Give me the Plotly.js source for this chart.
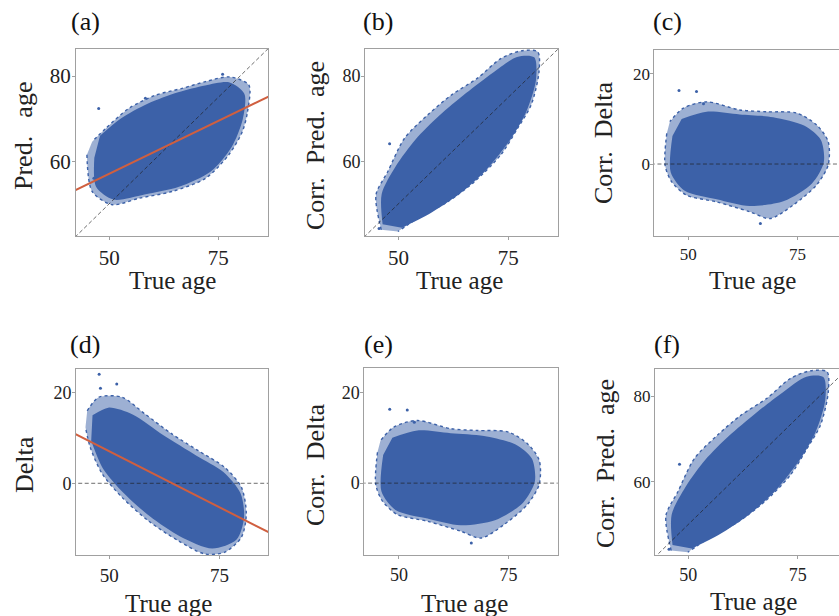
<!DOCTYPE html>
<html>
<head>
<meta charset="utf-8">
<script src="https://cdn.plot.ly/plotly-3.0.1.min.js"></script>
<style>
html,body{margin:0;padding:0;overflow:hidden;background:#fff;}
#chart{width:850px;height:616px;}
</style>
</head>
<body>
<div id="chart"></div>
<script>
// ---------- data ----------
const panelLetters = ["(a)", "(b)", "(c)", "(d)", "(e)", "(f)"];
const xTitle = "True age";
const yTitles = ["Pred.\u2002\u2009age", "Corr.\u2002Pred.\u2002age", "Corr.\u2002Delta", "Delta", "Corr.\u2002Delta", "Corr.\u2002Pred.\u2002age"];
const ageXTicks = [50, 75];
const ageYTicks = [60, 80];
const deltaYTicks = [0, 20];

// (a) True age vs Pred. age : outer sparse fringe and dense core outlines
const predFringeX = [44.9, 46.1, 50.7, 56.8, 64.4, 72.1, 77.4, 80.5, 81.7, 82.0, 77.5, 72.1, 66.7, 60.6, 54.5, 49.2, 46.1];
const predFringeY = [61.5, 52.9, 49.8, 51.3, 52.9, 56.0, 61.5, 66.9, 71.6, 77.9, 79.8, 78.7, 77.1, 75.5, 72.4, 67.7, 64.6];
const predCoreX = [46.6, 47.0, 51.0, 58.1, 66.0, 73.3, 78.0, 80.6, 81.0, 77.6, 72.0, 65.8, 58.8, 52.6, 47.9];
const predCoreY = [60.8, 54.0, 51.0, 52.2, 54.0, 57.6, 63.2, 69.8, 75.8, 78.5, 77.8, 76.2, 73.5, 70.0, 66.0];
const predOutX = [47.6, 58.3, 76.0, 46.5];
const predOutY = [72.4, 74.8, 80.4, 56.0];
const predFitX = [40, 90];
const predFitY = [52.1, 76.9];

// (b),(f) True age vs Corr. Pred. age
const corrPredFringeX = [46.1, 44.9, 47.6, 51.4, 56.7, 62.0, 68.0, 73.3, 77.9, 81.7, 82.0, 80.2, 77.1, 73.3, 67.3, 61.2, 54.4, 49.9];
const corrPredFringeY = [43.9, 52.1, 57.6, 65.4, 70.9, 75.5, 79.5, 84.1, 85.9, 85.7, 81.0, 73.2, 67.7, 61.5, 55.2, 50.5, 46.6, 43.5];
const corrPredCoreX = [46.4, 46.2, 49.4, 53.9, 59.2, 65.4, 71.5, 77.0, 80.9, 81.3, 79.1, 75.4, 70.0, 64.0, 57.0, 50.8];
const corrPredCoreY = [45.2, 52.3, 58.8, 65.1, 70.6, 76.0, 80.8, 84.5, 84.4, 79.0, 71.6, 65.0, 58.0, 52.4, 47.6, 44.4];
const corrPredOutX = [48.0, 45.6];
const corrPredOutY = [64.1, 44.2];

// (c),(e) True age vs Corr. Delta
const corrDeltaFringeX = [45.1, 44.7, 46.2, 49.6, 56.5, 64.1, 68.7, 74.0, 79.3, 82.0, 82.0, 79.3, 74.8, 67.9, 61.8, 54.2, 48.9, 45.8];
const corrDeltaFringeY = [6.8, -0.2, -3.9, -6.9, -8.4, -10.6, -12.1, -9.1, -4.7, -0.2, 5.0, 8.7, 11.3, 11.6, 12.0, 13.8, 12.4, 9.4];
const corrDeltaCoreX = [46.4, 46.0, 49.2, 56.5, 64.1, 71.9, 78.3, 81.0, 80.3, 76.6, 69.4, 61.8, 54.2, 48.5];
const corrDeltaCoreY = [6.2, -1.8, -5.9, -7.8, -9.3, -8.2, -4.3, 0.4, 5.4, 8.5, 10.4, 11.0, 11.6, 10.0];
const corrDeltaOutX = [47.9, 51.9, 53.5, 66.5];
const corrDeltaOutY = [16.3, 16.1, 13.4, -13.2];

// (d) True age vs Delta
const deltaFringeX = [45.0, 47.6, 52.9, 58.1, 64.2, 70.2, 76.2, 80.0, 81.1, 80.0, 76.2, 71.7, 65.7, 58.9, 52.9, 48.4, 45.7, 44.6];
const deltaFringeY = [16.0, 19.0, 19.0, 15.3, 10.9, 7.2, 3.5, -0.9, -6.8, -11.9, -15.2, -15.6, -12.7, -8.3, -3.1, 2.1, 7.9, 12.4];
const deltaCoreX = [46.2, 49.8, 55.3, 62.3, 69.8, 75.9, 79.8, 80.6, 78.9, 73.4, 66.2, 59.2, 53.2, 48.6, 45.9];
const deltaCoreY = [15.0, 16.7, 15.2, 10.6, 6.1, 2.5, -2.2, -7.6, -12.4, -14.4, -11.8, -7.3, -2.1, 3.2, 9.4];
const deltaOutX = [47.7, 48.0, 51.7];
const deltaOutY = [24.1, 21.0, 21.9];
const deltaFitX = [40, 90];
const deltaFitY = [12.0, -12.7];

const refLineX = [40, 90];
const identityY = [40, 90];
const zeroY = [0, 0];

// ---------- styling ----------
const BLUE = "#3C61A8";
const BLUE_FRINGE = "rgba(60,97,168,0.5)";
const RED = "#D05F3F";
const SPINE = "#a0a0a0";
const FONT = "Liberation Serif, Times New Roman, serif";
const W = 850, H = 616;

const panels = [
  {fx: predFringeX, fy: predFringeY, cx: predCoreX, cy: predCoreY, ox: predOutX, oy: predOutY,
   ref: identityY, fitX: predFitX, fitY: predFitY, yt: ageYTicks,
   xd: [76, 268], yd: [49, 236], xr: [42.4, 86.4], yr: [42.45, 86.35], xf: 21, yf: 21},
  {fx: corrPredFringeX, fy: corrPredFringeY, cx: corrPredCoreX, cy: corrPredCoreY, ox: corrPredOutX, oy: corrPredOutY,
   ref: identityY, yt: ageYTicks,
   xd: [365, 557.7], yd: [49, 236], xr: [42.4, 86.25], yr: [42.45, 86.35], xf: 21, yf: 18},
  {fx: corrDeltaFringeX, fy: corrDeltaFringeY, cx: corrDeltaCoreX, cy: corrDeltaCoreY, ox: corrDeltaOutX, oy: corrDeltaOutY,
   ref: zeroY, yt: deltaYTicks,
   xd: [654.3, 847], yd: [50, 235.7], xr: [42.25, 86.3], yr: [-15.9, 25.3], xf: 17, yf: 17},
  {fx: deltaFringeX, fy: deltaFringeY, cx: deltaCoreX, cy: deltaCoreY, ox: deltaOutX, oy: deltaOutY,
   ref: zeroY, fitX: deltaFitX, fitY: deltaFitY, yt: deltaYTicks,
   xd: [76, 268.3], yd: [368.7, 555.3], xr: [42.45, 86.1], yr: [-15.9, 25.3], xf: 19, yf: 18},
  {fx: corrDeltaFringeX, fy: corrDeltaFringeY, cx: corrDeltaCoreX, cy: corrDeltaCoreY, ox: corrDeltaOutX, oy: corrDeltaOutY,
   ref: zeroY, yt: deltaYTicks,
   xd: [364.3, 557.7], yd: [368.3, 555.3], xr: [42.1, 86.2], yr: [-15.9, 25.3], xf: 18, yf: 18},
  {fx: corrPredFringeX, fy: corrPredFringeY, cx: corrPredCoreX, cy: corrPredCoreY, ox: corrPredOutX, oy: corrPredOutY,
   ref: identityY, yt: ageYTicks,
   xd: [655, 848], yd: [368.7, 555.3], xr: [42.4, 86.5], yr: [42.8, 86.4], xf: 18, yf: 17}
];

// annotation positions (page px)
const letterPos = [[85, 22], [378, 22], [667, 22], [85, 344], [378, 344], [667, 344]];
const xTitlePos = [[172, 280], [459, 280], [752, 280], [168, 603], [464, 603], [753, 601]];
const yTitlePos = [[24, 136], [315, 146], [603, 143], [24, 465], [315, 465], [605, 464]];

const traces = [];
const layout = {
  width: W, height: H,
  margin: {l: 0, r: 0, t: 0, b: 0},
  paper_bgcolor: "#fff", plot_bgcolor: "#fff",
  showlegend: false,
  font: {family: FONT, color: "#222"},
  annotations: []
};

panels.forEach((p, i) => {
  const n = i + 1;
  const xa = "x" + (n === 1 ? "" : n), ya = "y" + (n === 1 ? "" : n);
  const xk = "xaxis" + (n === 1 ? "" : n), yk = "yaxis" + (n === 1 ? "" : n);
  traces.push({x: p.fx, y: p.fy, xaxis: xa, yaxis: ya, type: "scatter", mode: "lines",
    fill: "toself", fillcolor: BLUE_FRINGE, line: {color: BLUE, width: 1.4, dash: "dot", shape: "spline", smoothing: 0.8}, hoverinfo: "skip"});
  traces.push({x: p.cx, y: p.cy, xaxis: xa, yaxis: ya, type: "scatter", mode: "lines",
    fill: "toself", fillcolor: BLUE, line: {color: BLUE, width: 0, shape: "spline", smoothing: 0.8}, hoverinfo: "skip"});
  traces.push({x: p.ox, y: p.oy, xaxis: xa, yaxis: ya, type: "scatter", mode: "markers",
    marker: {color: BLUE, size: 3}, hoverinfo: "skip"});
  traces.push({x: refLineX, y: p.ref, xaxis: xa, yaxis: ya, type: "scatter", mode: "lines",
    line: {color: "rgba(30,30,30,0.65)", width: 1, dash: "4px,2.5px"}, hoverinfo: "skip"});
  if (p.fitX) {
    traces.push({x: p.fitX, y: p.fitY, xaxis: xa, yaxis: ya, type: "scatter", mode: "lines",
      line: {color: RED, width: 2}, hoverinfo: "skip"});
  }
  const common = {showline: true, mirror: true, linecolor: SPINE, linewidth: 1,
    ticks: "outside", ticklen: 3, tickcolor: SPINE, tickwidth: 1,
    showgrid: false, zeroline: false, fixedrange: true};
  layout[xk] = Object.assign({}, common, {
    domain: [p.xd[0] / W, p.xd[1] / W], range: p.xr, anchor: ya,
    tickmode: "array", tickvals: ageXTicks, ticktext: ageXTicks.map(String),
    tickfont: {family: FONT, size: p.xf, color: "#222"}});
  layout[yk] = Object.assign({}, common, {
    domain: [1 - p.yd[1] / H, 1 - p.yd[0] / H], range: p.yr, anchor: xa,
    tickmode: "array", tickvals: p.yt, ticktext: p.yt.map(String),
    ticklabelstandoff: -3,
    tickfont: {family: FONT, size: p.yf, color: "#222"}});

  layout.annotations.push({text: panelLetters[i], xref: "paper", yref: "paper",
    x: letterPos[i][0] / W, y: 1 - letterPos[i][1] / H, xanchor: "center", yanchor: "middle",
    showarrow: false, font: {family: FONT, size: 26, color: "#111"}});
  layout.annotations.push({text: xTitle, xref: "paper", yref: "paper",
    x: xTitlePos[i][0] / W, y: 1 - xTitlePos[i][1] / H, xanchor: "center", yanchor: "middle",
    showarrow: false, font: {family: FONT, size: 25, color: "#222"}});
  layout.annotations.push({text: yTitles[i], xref: "paper", yref: "paper", textangle: -90,
    x: yTitlePos[i][0] / W, y: 1 - yTitlePos[i][1] / H, xanchor: "center", yanchor: "middle",
    showarrow: false, font: {family: FONT, size: 26, color: "#222"}});
});

Plotly.newPlot("chart", traces, layout, {displayModeBar: false, staticPlot: true});
</script>
</body>
</html>
